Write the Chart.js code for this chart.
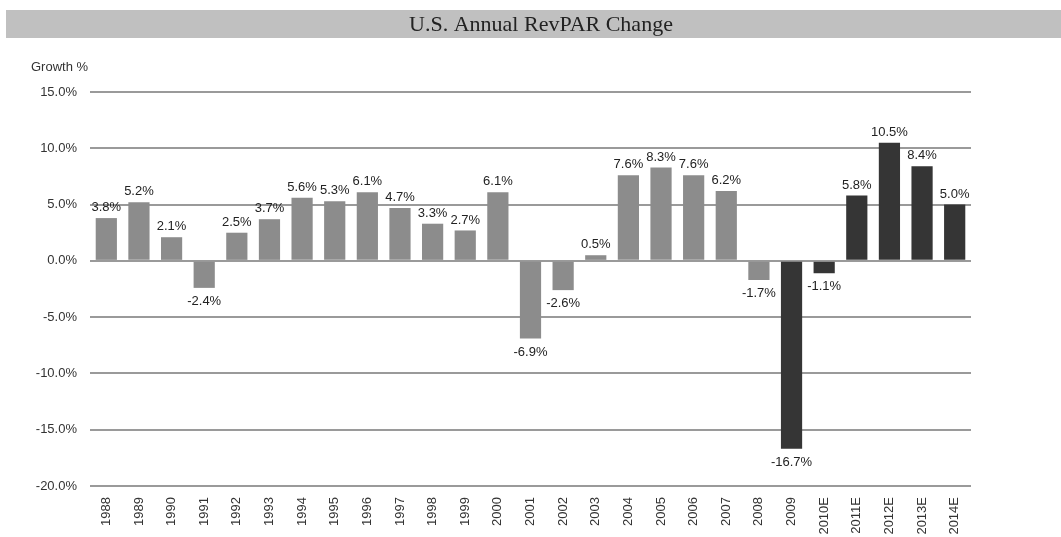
<!DOCTYPE html>
<html><head><meta charset="utf-8">
<script src="https://cdn.jsdelivr.net/npm/chart.js@4.4.1/dist/chart.umd.min.js"></script>
<style>html,body{margin:0;padding:0;background:#fff;}#wrap{width:1061px;height:537px;position:relative;}</style>
</head><body><div id="wrap"><canvas id="c"></canvas></div>
<script>
const chartTitle = 'U.S. Annual RevPAR Change';
const axisLabel = 'Growth %';
const categories = ['1988','1989','1990','1991','1992','1993','1994','1995','1996','1997','1998','1999','2000','2001','2002','2003','2004','2005','2006','2007','2008','2009','2010E','2011E','2012E','2013E','2014E'];
const growthValues = [3.8,5.2,2.1,-2.4,2.5,3.7,5.6,5.3,6.1,4.7,3.3,2.7,6.1,-6.9,-2.6,0.5,7.6,8.3,7.6,6.2,-1.7,-16.7,-1.1,5.8,10.5,8.4,5.0];
const yTickValues = [-20,-15,-10,-5,0,5,10,15];
const darkFromCategory = '2009';

const GRAY = '#8c8c8c', DARK = '#353535';
const darkStart = categories.indexOf(darkFromCategory);
const SANS = '"Liberation Sans", Arial, sans-serif';

const decorPlugin = {
  id: 'decor',
  beforeDraw(chart) {
    const ctx = chart.ctx;
    ctx.save();
    ctx.fillStyle = '#fff';
    ctx.fillRect(0, 0, chart.width, chart.height);
    ctx.fillStyle = '#c0c0c0';
    ctx.fillRect(6, 10, chart.width - 6, 28);
    ctx.fillStyle = '#222';
    ctx.font = '22px "Liberation Serif", "Times New Roman", serif';
    ctx.textAlign = 'center';
    ctx.textBaseline = 'middle';
    ctx.fillText(chartTitle, 541, 25);
    ctx.font = '13px ' + SANS;
    ctx.textAlign = 'left';
    ctx.fillStyle = '#333';
    ctx.fillText(axisLabel, 31, 67);
    ctx.restore();
  },
  afterDatasetsDraw(chart) {
    const ctx = chart.ctx;
    const meta = chart.getDatasetMeta(0);
    const data = chart.data.datasets[0].data;
    ctx.save();
    ctx.font = '13px ' + SANS;
    ctx.fillStyle = '#222';
    ctx.textAlign = 'center';
    meta.data.forEach((el, i) => {
      const v = data[i];
      const txt = v.toFixed(1) + '%';
      if (v >= 0) {
        ctx.textBaseline = 'bottom';
        ctx.fillText(txt, el.x, el.y - 4);
      } else {
        ctx.textBaseline = 'top';
        ctx.fillText(txt, el.x, el.y + 7);
      }
    });
    ctx.restore();
  }
};

new Chart(document.getElementById('c'), {
  type: 'bar',
  data: {
    labels: categories,
    datasets: [{
      data: growthValues,
      backgroundColor: ctx => ctx.dataIndex >= darkStart ? DARK : GRAY,
      borderWidth: 0,
      barPercentage: 0.65,
      categoryPercentage: 1.0
    }]
  },
  options: {
    responsive: true,
    maintainAspectRatio: false,
    animation: false,
    layout: { padding: { top: 92, right: 90, bottom: 0, left: 0 } },
    plugins: { legend: { display: false }, tooltip: { enabled: false }, title: { display: false } },
    scales: {
      x: {
        grid: { display: false, drawTicks: false },
        border: { display: false },
        ticks: { autoSkip: false, minRotation: 90, maxRotation: 90, padding: 11, color: '#333', font: { family: SANS, size: 13 } },
        afterFit(scale) { scale.height = 51; }
      },
      y: {
        min: yTickValues[0],
        max: yTickValues[yTickValues.length - 1],
        afterBuildTicks(scale) { scale.ticks = yTickValues.map(v => ({ value: v })); },
        grid: { color: '#9a9a9a', lineWidth: 2, drawTicks: false },
        border: { display: false },
        ticks: { padding: 13, color: '#333', font: { family: SANS, size: 13 }, callback: v => Number(v).toFixed(1) + '%' },
        afterFit(scale) { scale.width = 90; }
      }
    }
  },
  plugins: [decorPlugin]
});
</script></body></html>
